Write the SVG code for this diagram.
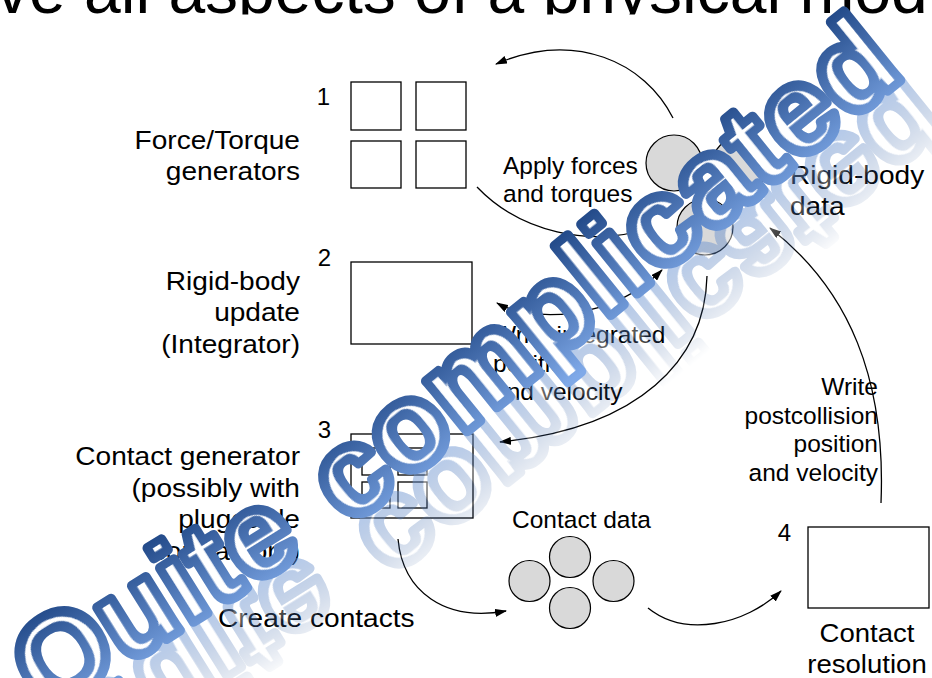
<svg xmlns="http://www.w3.org/2000/svg" width="932" height="678" viewBox="0 0 932 678">
<style>
  text{font-family:"Liberation Sans",Arial,Helvetica,sans-serif;fill:#000}
  .title{font-size:66px}
  .lbl{font-size:26px}
  .sm{font-size:24.5px}
  .num{font-size:24px;text-anchor:end}
  .end{text-anchor:end}
  .mid{text-anchor:middle}
  .box{fill:#fff;stroke:#000;stroke-width:1.3}
  .ball{fill:#d9d9d9;stroke:#000;stroke-width:1.2}
  .wire{fill:none;stroke:#000;stroke-width:1.3}
  .ov{font-family:"Liberation Sans",Arial,sans-serif;font-weight:bold;font-size:120px}
  .big{font-size:123px}
  .rim{fill:url(#edge);stroke:url(#edge);stroke-width:10;stroke-linejoin:round}
  .core{fill:#fff;filter:url(#thin)}
</style>
<defs>
  <marker id="arr" viewBox="0 0 12 8" refX="11" refY="4" markerWidth="12" markerHeight="8" markerUnits="userSpaceOnUse" orient="auto-start-reverse">
    <path d="M0,0 L12,4 L0,8 Z" fill="#000"/>
  </marker>
  <linearGradient id="edge" x1="0" y1="0" x2="0" y2="1">
    <stop offset="0" stop-color="#163d7c"/>
    <stop offset="1" stop-color="#7fa9e8"/>
  </linearGradient>
  <filter id="thin" x="-5%" y="-30%" width="110%" height="160%">
    <feMorphology operator="erode" radius="4"/>
  </filter>
  <linearGradient id="fadeG" gradientUnits="userSpaceOnUse" x1="0" y1="0" x2="0" y2="90">
    <stop offset="0" stop-color="#fff" stop-opacity="0.5"/>
    <stop offset="1" stop-color="#fff" stop-opacity="0"/>
  </linearGradient>
  <mask id="fade" maskUnits="userSpaceOnUse" x="-100" y="-60" width="1000" height="220">
    <rect x="-100" y="0" width="1000" height="120" fill="url(#fadeG)"/>
  </mask>
  <clipPath id="headClip"><rect x="0" y="0" width="932" height="14.5"/></clipPath>
</defs>

<!-- slide heading, its lower part hidden behind the figure -->
<text class="title" x="-4" y="13" clip-path="url(#headClip)">ve all aspects of a physical mod</text>

<!-- connectors -->
<g id="connectors" class="wire">
  <path d="M673,118 C645,62 575,30 496,64" marker-end="url(#arr)"/>
  <path d="M477,187 C520,232 590,248 650,228"/>
  <path d="M497,303 C530,322 610,322 662,270" marker-start="url(#arr)" marker-end="url(#arr)"/>
  <path d="M707,276 C705,360 640,428 500,442" marker-end="url(#arr)"/>
  <path d="M398,539 C403,592 445,622 506,611" marker-end="url(#arr)"/>
  <path d="M648,608 C685,638 745,625 781,591" marker-end="url(#arr)"/>
  <path d="M881,503 C886,380 850,290 770,228" marker-end="url(#arr)"/>
</g>

<!-- 1: force / torque generators -->
<g id="force-generators">
  <text class="num" x="330" y="105">1</text>
  <rect class="box" x="351" y="82" width="50" height="48"/>
  <rect class="box" x="416" y="82" width="50" height="48"/>
  <rect class="box" x="351" y="141" width="50" height="47"/>
  <rect class="box" x="416" y="141" width="50" height="47"/>
  <text class="lbl end" transform="matrix(1.08 0 0 1 -24 0)" x="300" y="149">Force/Torque<tspan x="300" dy="31">generators</tspan></text>
</g>

<!-- 2: integrator -->
<g id="integrator">
  <text class="num" x="331" y="266">2</text>
  <rect class="box" x="351" y="262" width="121" height="82"/>
  <text class="lbl end" transform="matrix(1.08 0 0 1 -24 0)" x="300" y="290">Rigid-body<tspan x="300" dy="31.5">update</tspan><tspan x="300" dy="31.5">(Integrator)</tspan></text>
</g>

<!-- 3: contact generator -->
<g id="contact-generator">
  <text class="num" x="331" y="438">3</text>
  <rect class="box" x="351" y="434" width="122" height="84"/>
  <rect class="box" x="362" y="448" width="28" height="27"/>
  <rect class="box" x="398" y="448" width="29" height="27"/>
  <rect class="box" x="362" y="482" width="28" height="26"/>
  <rect class="box" x="398" y="482" width="29" height="26"/>
  <text class="lbl end" transform="matrix(1.08 0 0 1 -24 0)" x="300" y="465">Contact generator<tspan x="300" dy="31.7">(possibly with</tspan><tspan x="300" dy="31.7">pluggable</tspan><tspan x="300" dy="31.7">contractors)</tspan></text>
</g>

<!-- rigid-body data -->
<g id="rigid-body-data">
  <circle class="ball" cx="740" cy="165" r="28"/>
  <circle class="ball" cx="674" cy="163" r="28"/>
  <circle class="ball" cx="705" cy="227" r="28"/>
  <text class="lbl" transform="matrix(1.08 0 0 1 -63.2 0)" x="790" y="184">Rigid-body<tspan x="790" dy="31">data</tspan></text>
</g>

<!-- contact data -->
<g id="contact-data">
  <text class="sm" x="512" y="528">Contact data</text>
  <circle class="ball" cx="570" cy="557" r="20.5"/>
  <circle class="ball" cx="529.5" cy="581" r="20.5"/>
  <circle class="ball" cx="613.5" cy="581" r="20.5"/>
  <circle class="ball" cx="570" cy="608" r="20.5"/>
</g>

<!-- 4: contact resolution -->
<g id="contact-resolution">
  <text class="num" x="791" y="541">4</text>
  <rect class="box" x="808" y="527" width="121" height="81"/>
  <text class="lbl mid" transform="matrix(1.06 0 0 1 -52 0)" x="867" y="642">Contact<tspan x="867" dy="31">resolution</tspan></text>
</g>

<!-- connector labels -->
<g id="connector-labels">
  <text class="sm" x="503" y="174">Apply forces<tspan x="503" dy="27.5">and torques</tspan></text>
  <text class="sm" x="493" y="343">Write integrated<tspan x="493" dy="28.5">position</tspan><tspan x="493" dy="28.5">and velocity</tspan></text>
  <text class="sm end" x="878" y="395">Write<tspan x="878" dy="28.5">postcollision</tspan><tspan x="878" dy="28.5">position</tspan><tspan x="878" dy="28.5">and velocity</tspan></text>
  <text class="lbl" transform="matrix(1.08 0 0 1 -17.44 0)" x="218" y="627">Create contacts</text>
</g>

<!-- diagonal banner on a gentle upward bend: outlined letters with a faded mirror image under the baseline -->
<g id="banner">
  <g transform="translate(45.3,714.6) rotate(-32)">
    <g mask="url(#fade)">
      <g transform="scale(1,-1)">
        <text class="ov rim">Quite</text>
        <text class="ov core">Quite</text>
      </g>
    </g>
    <text class="ov rim">Quite</text>
    <text class="ov core">Quite</text>
  </g>
  <g transform="translate(349,527) rotate(-39)">
    <g mask="url(#fade)">
      <g transform="scale(1,-1)">
        <text class="ov big rim">complicated</text>
        <text class="ov big core">complicated</text>
      </g>
    </g>
    <text class="ov big rim">complicated</text>
    <text class="ov big core">complicated</text>
  </g>
</g>
</svg>
